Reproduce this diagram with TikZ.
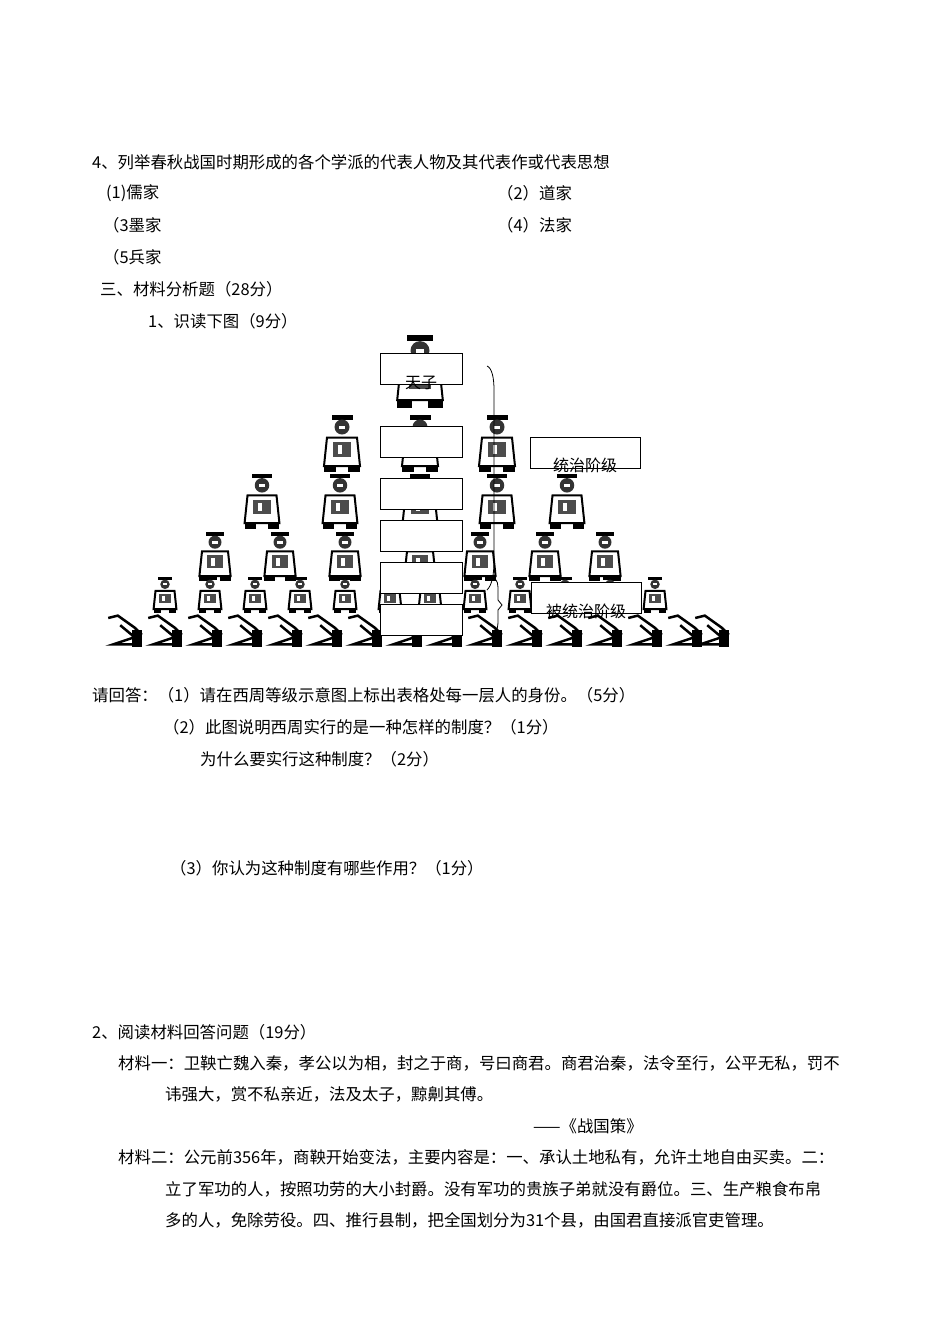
\documentclass[tikz,border=0pt]{standalone}
\usepackage{fontspec}
\setmainfont{Liberation Serif}
\newfontfamily\cjk{Noto Sans CJK SC}
\tikzset{
 txt/.style={anchor=west,inner sep=0pt,font=\cjk\fontsize{16.4}{18}\selectfont},
 lbl/.style={inner sep=0pt,font=\cjk\fontsize{16}{18}\selectfont},
 tbox/.style={draw,thick,fill=white,minimum width=82pt,minimum height=31pt,inner sep=0pt},
 rbox/.style={draw,thick,fill=white,minimum width=110pt,minimum height=31pt,inner sep=0pt}
}
\newcommand{\person}[3]{% x y size
 \begin{scope}[shift={(#1,#2)},scale=#3]
  \fill[black] (-7,-14) rectangle (7,-11);
  \fill[black!80] (0,-6) circle (5);
  \fill[white] (-2,-7) rectangle (2,-5);
  \draw[black,line width=2pt] (-10,1) -- (-12,20) -- (12,20) -- (10,1) -- cycle;
  \fill[black!70] (-6,4) rectangle (6,14);
  \fill[white] (-3,6) rectangle (0,12);
  \fill[black] (-12,20) rectangle (-4,24);
  \fill[black] (4,20) rectangle (12,24);
 \end{scope}}
\newcommand{\kneel}[2]{% x y
 \begin{scope}[shift={(#1,#2)},scale=1.2]
  \draw[black,line width=2.5pt] (-14,-10) -- (-6,-12) -- (8,-2) -- (14,4);
  \draw[black,line width=2.5pt] (-4,-4) -- (8,6) -- (-10,12) -- (14,12);
  \fill[black] (6,0) rectangle (14,14);
 \end{scope}}
\begin{document}
\begin{tikzpicture}[x=1pt,y=-1pt]
\useasboundingbox (0,0) rectangle (950,1344);
\node[txt] (t1) at (92,162) {4、列举春秋战国时期形成的各个学派的代表人物及其代表作或代表思想};
\node[txt] (t2) at (106,193) {(1)儒家};
\node[txt] (t3) at (497,193) {（2）道家};
\node[txt] (t4) at (103,225) {（3墨家};
\node[txt] (t5) at (497,225) {（4）法家};
\node[txt] (t6) at (103,257) {（5兵家};
\node[txt] (t7) at (100,289) {三、材料分析题（28分）};
\node[txt] (t8) at (148,321) {1、识读下图（9分）};
% figures
\person{420}{362}{1.9}
\foreach \x in {342,420,497} {\person{\x}{436}{1.5}}
\foreach \x in {262,340,420,497,567} {\person{\x}{494}{1.45}}
\foreach \x in {215,280,345,420,480,545,605} {\person{\x}{550}{1.3}}
\foreach \x in {165,210,255,300,345,390,430,475,520,565,610,655} {\person{\x}{590}{0.95}}
\foreach \x in {125,165,205,245,285,325,365,405,445,485,525,565,605,645,685,712} {\kneel{\x}{630}}
% boxes
\node[tbox] (b1) at (421,369) {};
\node[tbox] (b2) at (421,442) {};
\node[tbox] (b3) at (421,494) {};
\node[tbox] (b4) at (421,536) {};
\node[tbox] (b5) at (421,578) {};
\node[tbox] (b6) at (421,620) {};
\node[lbl] (tz) at (421,383) {天子};
\node[rbox] (r1) at (585,453) {};
\node[lbl] (r1t) at (585,465) {统治阶级};
\node[rbox] (r2) at (586,598) {};
\node[lbl] (r2t) at (586,611) {被统治阶级};
% braces
\coordinate (a1) at (487,366);
\coordinate (a2) at (487,590);
\draw[thick] (a1) .. controls (492,368) and (494,378) .. (494,390) -- (494,560)
  .. controls (494,575) and (492,585) .. (a2);
\coordinate (c1) at (493,578);
\coordinate (c2) at (493,634);
\draw[thick] (c1) .. controls (498,580) and (498,584) .. (498,592) -- (498,600) -- (502,605) -- (498,610) -- (498,620)
  .. controls (498,628) and (497,632) .. (c2);
% questions
\node[txt] (q1) at (92,695) {请回答：（1）请在西周等级示意图上标出表格处每一层人的身份。（5分）};
\node[txt] (q2) at (163,727) {（2）此图说明西周实行的是一种怎样的制度？（1分）};
\node[txt] (q3) at (200,759) {为什么要实行这种制度？（2分）};
\node[txt] (q4) at (170,868) {（3）你认为这种制度有哪些作用？（1分）};
\node[txt] (s1) at (92,1032) {2、阅读材料回答问题（19分）};
\node[txt] (s2) at (118,1063) {材料一：卫鞅亡魏入秦，孝公以为相，封之于商，号曰商君。商君治秦，法令至行，公平无私，罚不};
\node[txt] (s3) at (165,1094) {讳强大，赏不私亲近，法及太子，黥劓其傅。};
\node[txt] (s4) at (533,1126) {——《战国策》};
\node[txt] (s5) at (118,1157) {材料二：公元前356年，商鞅开始变法，主要内容是：一、承认土地私有，允许土地自由买卖。二：};
\node[txt] (s6) at (165,1189) {立了军功的人，按照功劳的大小封爵。没有军功的贵族子弟就没有爵位。三、生产粮食布帛};
\node[txt] (s7) at (165,1220) {多的人，免除劳役。四、推行县制，把全国划分为31个县，由国君直接派官吏管理。};
\end{tikzpicture}
\end{document}
